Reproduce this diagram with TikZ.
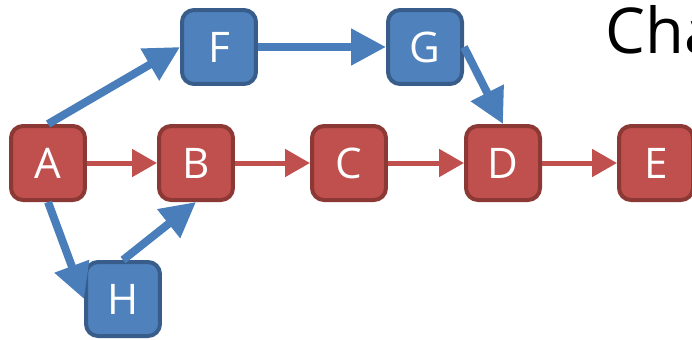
\documentclass[tikz,border=0pt]{standalone}
\usepackage{fontspec}
\setmainfont{Open Sans}
\usetikzlibrary{arrows.meta}
\definecolor{boxred}{RGB}{192,80,77}
\definecolor{edgered}{RGB}{140,56,53}
\definecolor{boxblue}{RGB}{79,129,189}
\definecolor{edgeblue}{RGB}{56,93,138}
\definecolor{arrowblue}{RGB}{74,126,187}
\begin{document}
\begin{tikzpicture}[x=0.02cm,y=-0.02cm,
  box/.style={minimum size=1.48cm,inner sep=0pt,rounded corners=0.24cm,line width=0.08cm,text=white,font=\fontsize{24}{28}\selectfont},
  redbox/.style={box,fill=boxred,draw=edgered},
  bluebox/.style={box,fill=boxblue,draw=edgeblue},
  redarrow/.style={draw=boxred,line width=0.1cm,-{Triangle[length=0.5cm,width=0.54cm]}},
  bluearrow/.style={draw=arrowblue,line width=0.16cm,-{Triangle[length=0.7cm,width=0.7cm]}}]
\useasboundingbox (0,0) rectangle (692,339);
\node[redbox] (A) at (48,163) {A};
\node[redbox] (B) at (196,163) {B};
\node[redbox] (C) at (349,163) {C};
\node[redbox] (D) at (503,163) {D};
\node[redbox] (E) at (656,163) {E};
\node[bluebox] (F) at (219,47) {F};
\node[bluebox] (G) at (425,47) {G};
\node[bluebox] (H) at (123,299) {H};
\node[anchor=base west,inner sep=0pt,font=\fontsize{36}{40}\selectfont] (title) at (605,53) {Cha};
\draw[redarrow] (A) -- (B);
\draw[redarrow] (B) -- (C);
\draw[redarrow] (C) -- (D);
\draw[redarrow] (D) -- (E);
\draw[bluearrow] (A.north) -- (F.west);
\draw[bluearrow] (F) -- (G);
\draw[bluearrow] (G.east) -- (D.north);
\draw[bluearrow] (A.south) -- (H.west);
\draw[bluearrow] (H.north) -- (B.south);
\end{tikzpicture}
\end{document}
